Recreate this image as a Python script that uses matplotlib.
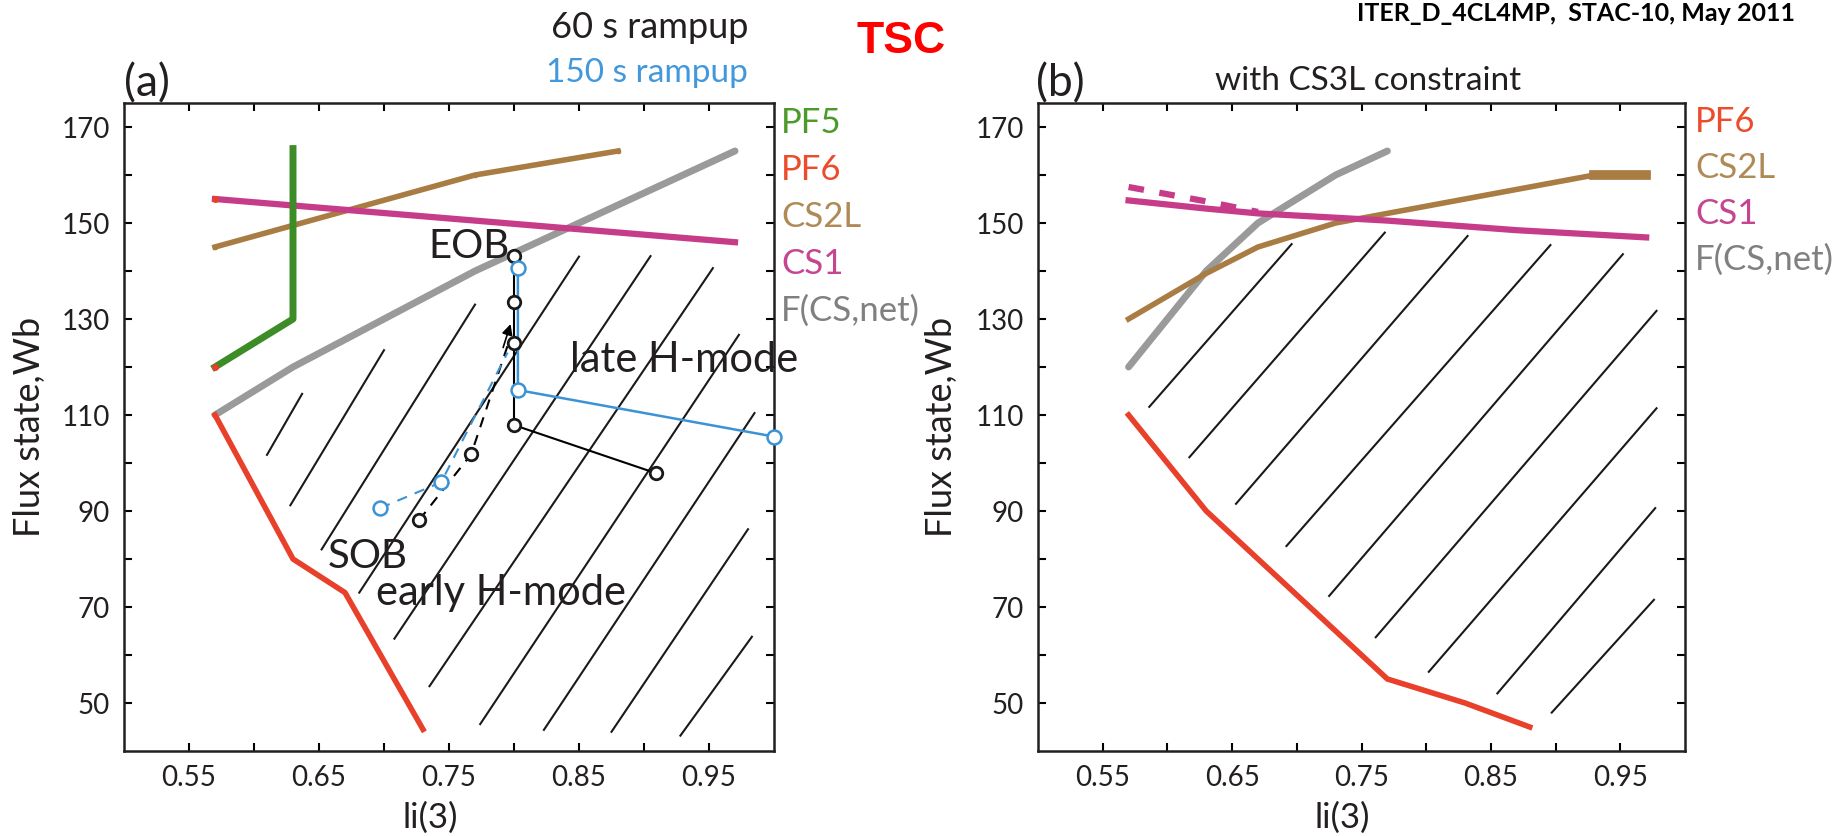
import matplotlib
matplotlib.use("Agg")
import matplotlib.pyplot as plt

W, H = 1839, 836

plt.rcParams["font.family"] = ["Lato", "DejaVu Sans"]
TEXT = "#231f20"

# ---- panel (a): 60 s / 150 s rampup ----
A_PF5_X = [0.57, 0.63, 0.63]
A_PF5_Y = [120, 130, 165.5]
A_PF6_X = [0.57, 0.63, 0.67, 0.73]
A_PF6_Y = [110, 80, 73, 44.5]
A_CS2L_X = [0.57, 0.77, 0.88]
A_CS2L_Y = [145, 160, 165]
A_CS1_X = [0.57, 0.97]
A_CS1_Y = [155, 146]
A_FCS_X = [0.57, 0.63, 0.77, 0.93, 0.97]
A_FCS_Y = [110, 120, 140, 160, 165]

# 150 s rampup trajectory
BLUE_DASH_X = [0.697, 0.744, 0.795]
BLUE_DASH_Y = [90.6, 96.0, 123.0]
BLUE_SOLID_X = [0.803, 0.803, 1.0]
BLUE_SOLID_Y = [140.6, 115.2, 105.5]
BLUE_PTS_X = [0.697, 0.744, 0.803, 0.803, 1.0]
BLUE_PTS_Y = [90.6, 96.0, 115.2, 140.6, 105.5]

# 60 s rampup trajectory
BLACK_DASH_X = [0.727, 0.767, 0.797]
BLACK_DASH_Y = [88.1, 101.8, 126.0]
BLACK_SOLID_X = [0.800, 0.800, 0.909]
BLACK_SOLID_Y = [143.1, 107.9, 97.9]
BLACK_PTS_X = [0.727, 0.767, 0.800, 0.800, 0.800, 0.800, 0.909]
BLACK_PTS_Y = [88.1, 101.8, 125.0, 133.6, 143.1, 107.9, 97.9]

# allowed-region hatching, panel (a)
HATCH_A_X0 = [0.610, 0.628, 0.652, 0.681, 0.708, 0.735, 0.774, 0.823, 0.875, 0.928]
HATCH_A_Y0 = [101.7, 91.2, 82.0, 73.0, 63.4, 53.5, 45.6, 44.4, 44.0, 43.2]
HATCH_A_X1 = [0.637, 0.700, 0.770, 0.850, 0.905, 0.953, 0.973, 0.985, 0.980, 0.983]
HATCH_A_Y1 = [114.4, 123.5, 133.0, 143.0, 143.1, 140.6, 126.7, 110.4, 86.2, 63.8]

# ---- panel (b): with CS3L constraint ----
B_PF6_X = [0.57, 0.63, 0.67, 0.73, 0.77, 0.83, 0.88]
B_PF6_Y = [110, 90, 80, 65, 55, 50, 45]
B_CS2L_X = [0.57, 0.63, 0.67, 0.73, 0.83, 0.93, 0.97]
B_CS2L_Y = [130, 139.5, 145, 150, 155, 160, 160]
B_CS1_X = [0.57, 0.63, 0.67, 0.77, 0.87, 0.97]
B_CS1_Y = [154.7, 153, 152, 150.5, 148.5, 147]
B_CS1D_X = [0.57, 0.63, 0.67]
B_CS1D_Y = [157.5, 154.5, 152.3]
B_FCS_X = [0.57, 0.63, 0.67, 0.73, 0.77]
B_FCS_Y = [120, 140, 150, 160, 165]

HATCH_B_X0 = [0.586, 0.617, 0.653, 0.692, 0.725, 0.761, 0.802, 0.855, 0.897]
HATCH_B_Y0 = [111.7, 101.2, 91.5, 82.7, 72.3, 63.7, 56.5, 52.0, 48.0]
HATCH_B_X1 = [0.696, 0.768, 0.832, 0.896, 0.952, 0.978, 0.978, 0.977, 0.976]
HATCH_B_Y1 = [145.6, 148.0, 147.3, 145.4, 143.5, 131.7, 111.4, 90.6, 71.5]

X_TICKS = [0.55, 0.60, 0.65, 0.70, 0.75, 0.80, 0.85, 0.90, 0.95]
X_LABELS = ["0.55", "", "0.65", "", "0.75", "", "0.85", "", "0.95"]
Y_TICKS = [50, 60, 70, 80, 90, 100, 110, 120, 130, 140, 150, 160, 170]
Y_LABELS = ["50", "", "70", "", "90", "", "110", "", "130", "", "150", "", "170"]

GREEN = "#3d8c27"
RED = "#e8402a"
BROWN = "#a87c42"
MAGENTA = "#c63c88"
GRAY = "#9a9a9a"
BLUE = "#3b93d6"


def fx(px):
    return px / W


def fy(py):
    return 1 - py / H


def setup(ax):
    ax.set_xlim(0.5, 1.0)
    ax.set_ylim(40, 175)
    ax.set_xticks(X_TICKS)
    ax.set_xticklabels(X_LABELS)
    ax.set_yticks(Y_TICKS)
    ax.set_yticklabels(Y_LABELS)
    ax.tick_params(direction="in", length=6, width=1.5, top=True, right=True,
                   labelsize=20, labelcolor=TEXT, pad=10)
    for s in ax.spines.values():
        s.set_linewidth(1.8)
        s.set_color(TEXT)


def hatch(ax, x0, y0, x1, y1):
    for a, b, c, d in zip(x0, y0, x1, y1):
        ax.plot([a, c], [b, d], color="#1a1a1a", lw=1.5, zorder=1)


fig = plt.figure(figsize=(W / 100, H / 100), dpi=100)
fig.patch.set_facecolor("white")

ax_a = fig.add_axes([fx(124), fy(751), 650 / W, 648 / H])
ax_b = fig.add_axes([fx(1038), fy(751), 647 / W, 648 / H])
setup(ax_a)
setup(ax_b)

# panel (a)
hatch(ax_a, HATCH_A_X0, HATCH_A_Y0, HATCH_A_X1, HATCH_A_Y1)
ax_a.plot(A_FCS_X, A_FCS_Y, color=GRAY, lw=5, solid_capstyle="round", zorder=3)
ax_a.plot(A_CS2L_X, A_CS2L_Y, color=BROWN, lw=4, marker="o", ms=3, zorder=3)
ax_a.plot(A_CS1_X, A_CS1_Y, color=MAGENTA, lw=4.5, zorder=4)
ax_a.plot(A_PF5_X, A_PF5_Y, color=GREEN, lw=5, zorder=4)
ax_a.plot(A_PF6_X, A_PF6_Y, color=RED, lw=4, zorder=4)
ax_a.plot([A_PF5_X[0], A_CS1_X[0]], [A_PF5_Y[0], A_CS1_Y[0]], ls="none",
          marker="o", ms=4, color=RED, zorder=5)

ax_a.plot(BLACK_DASH_X, BLACK_DASH_Y, color="k", lw=1.5, ls=(0, (5, 4)), zorder=5)
ax_a.plot(BLACK_SOLID_X, BLACK_SOLID_Y, color="k", lw=1.5, zorder=5)
ax_a.plot(BLUE_DASH_X, BLUE_DASH_Y, color=BLUE, lw=1.5, ls=(0, (5, 4)), zorder=6)
ax_a.plot(BLUE_SOLID_X, BLUE_SOLID_Y, color=BLUE, lw=1.8, zorder=6)
ax_a.plot(BLACK_PTS_X, BLACK_PTS_Y, ls="none", marker="o", ms=9, mew=2,
          mec="#1a1a1a", mfc="white", zorder=7, clip_on=False)
ax_a.plot(BLUE_PTS_X, BLUE_PTS_Y, ls="none", marker="o", ms=10, mew=1.8,
          mec=BLUE, mfc="white", zorder=8, clip_on=False)
ax_a.annotate("", xy=(0.798, 129.5), xytext=(0.791, 123.5),
              arrowprops=dict(arrowstyle="-|>", color="k", lw=1.2,
                              mutation_scale=16), zorder=9)

# panel (b)
hatch(ax_b, HATCH_B_X0, HATCH_B_Y0, HATCH_B_X1, HATCH_B_Y1)
ax_b.plot(B_FCS_X, B_FCS_Y, color=GRAY, lw=5, solid_capstyle="round", zorder=3)
ax_b.plot(B_CS2L_X, B_CS2L_Y, color=BROWN, lw=4, zorder=3)
ax_b.plot(B_CS2L_X[-2:], B_CS2L_Y[-2:], color=BROWN, lw=7, zorder=3)
ax_b.plot(B_CS1_X, B_CS1_Y, color=MAGENTA, lw=4.5, zorder=4)
ax_b.plot(B_CS1D_X, B_CS1D_Y, color=MAGENTA, lw=4.5, ls=(0, (2.5, 2.5)), zorder=4)
ax_b.plot(B_PF6_X, B_PF6_Y, color=RED, lw=4, zorder=4)

# panel letters, labels, annotations
txt = dict(color=TEXT)
fig.text(fx(124), fy(96), "(a)", fontsize=32, ha="left", va="baseline", **txt)
fig.text(fx(1036), fy(96), "(b)", fontsize=32, ha="left", va="baseline", **txt)
fig.text(fx(748), fy(38), "60 s rampup", fontsize=26, ha="right", va="baseline", **txt)
fig.text(fx(748), fy(82), "150 s rampup", fontsize=24, ha="right", va="baseline",
         color="#4198dc")
fig.text(fx(1368), fy(90), "with CS3L constraint", fontsize=24, ha="center",
         va="baseline", **txt)
fig.text(fx(901), fy(53), "TSC", fontsize=32, ha="center", va="baseline",
         color="#ff0000", fontweight="bold", family=["Liberation Sans", "DejaVu Sans"])
fig.text(fx(1795), fy(21), "ITER_D_4CL4MP,  STAC-10, May 2011", fontsize=18,
         ha="right", va="baseline", fontweight="bold", color="black")

fig.text(fx(428), fy(258), "EOB", fontsize=29, ha="left", va="baseline", **txt)
fig.text(fx(570), fy(372), "late H-mode", fontsize=30, ha="left", va="baseline", **txt)
fig.text(fx(328), fy(568), "SOB", fontsize=29, ha="left", va="baseline", **txt)
fig.text(fx(376), fy(605), "early H-mode", fontsize=30, ha="left", va="baseline", **txt)

for cx in (30, 942):
    fig.text(fx(cx), fy(427), "Flux state,Wb", fontsize=26, rotation=90,
             ha="center", va="center", **txt)
for cx in (430, 1342):
    fig.text(fx(cx), fy(818), "li(3)", fontsize=25, ha="center", va="center", **txt)

LEG_A = [("PF5", "#4c9a2a"), ("PF6", "#ec4b2c"), ("CS2L", "#b08a56"),
         ("CS1", "#c54590"), ("F(CS,net)", "#808080")]
LEG_B = LEG_A[1:]
for i, (name, col) in enumerate(LEG_A):
    fig.text(fx(781), fy(123 + 47 * i), name, fontsize=25, color=col,
             ha="left", va="center")
for i, (name, col) in enumerate(LEG_B):
    fig.text(fx(1695), fy(122 + 46 * i), name, fontsize=25, color=col,
             ha="left", va="center")

fig.savefig("out.png", dpi=100, facecolor="white")
